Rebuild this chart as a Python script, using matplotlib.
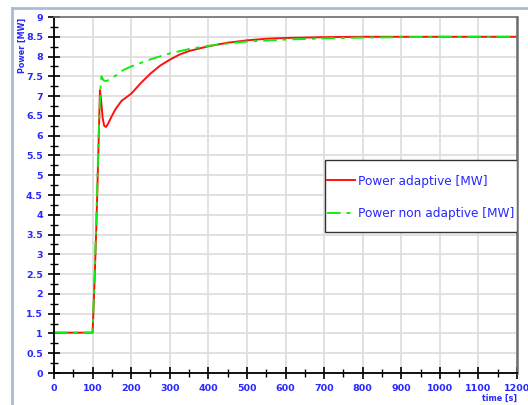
import matplotlib
matplotlib.use("Agg")
import matplotlib.pyplot as plt
from matplotlib.lines import Line2D
from matplotlib.patches import Rectangle
from matplotlib.ticker import MultipleLocator

# time [s] / power [MW] samples for the two controller runs
t_adaptive = [0, 100, 105, 110, 115, 119, 122, 126, 130, 135, 140, 150, 160, 175,
              200, 225, 250, 275, 300, 325, 350, 400, 450, 500, 550, 600, 650, 700,
              800, 900, 1000, 1100, 1200]
p_adaptive = [1.02, 1.02, 2.3, 3.8, 5.6, 7.15, 6.9, 6.45, 6.25, 6.22, 6.3, 6.5, 6.68, 6.88,
              7.06, 7.33, 7.57, 7.77, 7.92, 8.05, 8.14, 8.26, 8.35, 8.41, 8.45, 8.47, 8.48, 8.49,
              8.5, 8.5, 8.5, 8.5, 8.5]

t_non_adaptive = [0, 100, 105, 110, 115, 121, 123, 128, 136, 150, 180, 200, 250, 300,
                  350, 400, 450, 500, 600, 700, 800, 900, 1000, 1200]
p_non_adaptive = [1.02, 1.02, 2.4, 4.0, 5.8, 7.3, 7.5, 7.4, 7.38, 7.45, 7.66, 7.75, 7.93, 8.08,
                  8.19, 8.27, 8.33, 8.38, 8.43, 8.46, 8.48, 8.49, 8.5, 8.5]

label_blue = "#2828ff"

fig = plt.figure(figsize=(5.28, 4.05), dpi=100)
ax = fig.add_axes([0.1023, 0.079, 0.8769, 0.879])

ax.plot(t_adaptive, p_adaptive, color="#ff1010", lw=1.4, label="Power adaptive [MW]")
ax.plot(t_non_adaptive, p_non_adaptive, color="#10ee10", lw=1.4, ls="-.",
        dashes=(7, 3, 2, 3), label="Power non adaptive [MW]")

ax.set_xlim(0, 1200)
ax.set_ylim(0, 9)
ax.xaxis.set_major_locator(MultipleLocator(100))
ax.xaxis.set_minor_locator(MultipleLocator(50))
ax.yaxis.set_major_locator(MultipleLocator(0.5))
ax.yaxis.set_minor_locator(MultipleLocator(0.25))
ax.yaxis.set_major_formatter(plt.FuncFormatter(lambda v, p: f"{v:g}"))

ax.grid(True, which="major", color="#dedede", lw=1.3)
ax.set_axisbelow(True)
ax.tick_params(which="major", direction="inout", length=9, width=1.2, colors="black",
               labelcolor=label_blue, labelsize=6.8)
ax.tick_params(which="minor", direction="inout", length=6, width=1.0, colors="black")
for lbl in ax.get_xticklabels() + ax.get_yticklabels():
    lbl.set_fontweight("bold")

for side in ("left", "bottom"):
    ax.spines[side].set_color("black")
    ax.spines[side].set_linewidth(1.3)
for side in ("top", "right"):
    ax.spines[side].set_color("#6e6e6e")
    ax.spines[side].set_linewidth(1.8)
ax.spines["top"].set_linewidth(1.2)

fig.text(0.042, 0.955, "Power [MW]", rotation=90, ha="center", va="top",
         color=label_blue, fontsize=5.8, fontweight="bold")
fig.text(0.979, 0.006, "time [s]", ha="right", va="bottom",
         color=label_blue, fontsize=5.8, fontweight="bold")

# legend box: white panel with a thin dark border, entries placed inside it
ax.add_patch(Rectangle((0.585, 0.396), 0.415, 0.202, transform=ax.transAxes,
                       facecolor="white", edgecolor="#333333", lw=1.0, zorder=4))
leg = ax.legend(loc="upper left", bbox_to_anchor=(0.5896, 0.557), frameon=False,
                labelcolor=label_blue, fontsize=8.7, handlelength=2.3,
                handletextpad=0.25, labelspacing=1.6, borderpad=0.0, borderaxespad=0.0)
leg.set_zorder(5)

# window frame along the left and top edge
fig.add_artist(Line2D([0.0235, 0.0235], [0.0, 0.98], color="#a8bcd8", lw=2))
fig.add_artist(Line2D([0.0235, 1.0], [0.98, 0.98], color="#a8bcd8", lw=2))

fig.savefig("out.png", dpi=100)
